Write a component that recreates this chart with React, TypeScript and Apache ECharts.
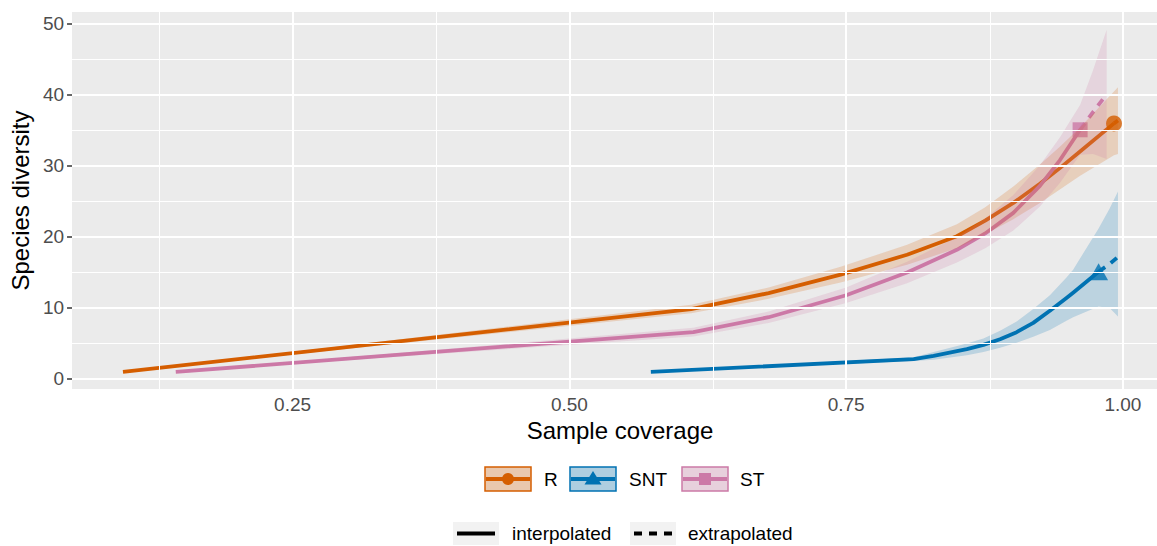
import React, { useEffect, useRef } from "react";
import * as echarts from "echarts";

// ---------- data ----------
const groupNames = ["R", "SNT", "ST"];
const groupColors = ["#D55E00", "#0072B2", "#CC79A7"];

const rCoverage = [0.0968, 0.61, 0.68, 0.745, 0.805, 0.85, 0.8756, 0.901, 0.925, 0.943, 0.961, 0.9919, 0.9955];
const rDiversity = [1.0, 9.85, 12.1, 14.7, 17.5, 20.1, 22.3, 24.8, 27.5, 29.7, 32.0, 36.0, 36.4];
const rLower = [1.0, 9.25, 11.3, 13.6, 16.1, 18.4, 20.4, 22.5, 24.8, 26.7, 28.6, 31.5, 31.7];
const rUpper = [1.0, 10.45, 12.9, 15.8, 18.9, 21.8, 24.2, 27.1, 30.2, 32.7, 35.4, 40.5, 41.1];
const rRefIndex = 11;

const sntCoverage = [0.5736, 0.811, 0.829, 0.859, 0.874, 0.889, 0.904, 0.919, 0.934, 0.949, 0.955, 0.978, 0.988, 0.9955];
const sntDiversity = [1.0, 2.8, 3.25, 4.2, 4.8, 5.6, 6.6, 7.9, 9.6, 11.4, 12.15, 15.1, 16.2, 17.2];
const sntLower = [1.0, 2.55, 2.7, 3.35, 3.8, 4.4, 5.1, 5.95, 6.9, 8.2, 8.7, 10.2, 10.0, 8.8];
const sntUpper = [1.0, 3.05, 3.8, 5.0, 5.7, 6.8, 8.1, 9.85, 11.8, 14.3, 15.4, 21.2, 24.0, 26.4];
const sntRefIndex = 11;

const stCoverage = [0.1445, 0.612, 0.68, 0.75, 0.805, 0.85, 0.8756, 0.901, 0.925, 0.943, 0.9613, 0.973, 0.9853];
const stDiversity = [1.0, 6.6, 8.7, 11.8, 15.0, 18.2, 20.5, 23.4, 27.2, 30.8, 35.1, 37.6, 40.1];
const stLower = [1.0, 6.0, 7.9, 10.7, 13.5, 16.4, 18.4, 20.9, 24.3, 27.6, 31.6, 31.7, 31.0];
const stUpper = [1.0, 7.2, 9.5, 12.9, 16.5, 20.0, 22.6, 25.9, 30.1, 34.0, 38.6, 43.5, 49.2];
const stRefIndex = 10;

const xMajorTicks = [0.25, 0.5, 0.75, 1.0];
const xMinorTicks = [0.125, 0.375, 0.625, 0.875];
const yMajorTicks = [0, 10, 20, 30, 40, 50];
const yMinorTicks = [5, 15, 25, 35, 45];

const lineTypeNames = ["interpolated", "extrapolated"];

// ---------- helpers ----------
const FONT = "'Liberation Sans', Arial, Helvetica, sans-serif";

function hexAlpha(hex: string, a: number) {
  const r = parseInt(hex.slice(1, 3), 16);
  const g = parseInt(hex.slice(3, 5), 16);
  const b = parseInt(hex.slice(5, 7), 16);
  return `rgba(${r},${g},${b},${a})`;
}

const groups = [
  { x: rCoverage, y: rDiversity, lo: rLower, hi: rUpper, ref: rRefIndex, symbol: "circle", size: 16 },
  { x: sntCoverage, y: sntDiversity, lo: sntLower, hi: sntUpper, ref: sntRefIndex, symbol: "triangle", size: [19, 17] },
  { x: stCoverage, y: stDiversity, lo: stLower, hi: stUpper, ref: stRefIndex, symbol: "rect", size: 15 },
];

function buildSeries() {
  const series: any[] = [];
  series.push({
    type: "line",
    data: [],
    silent: true,
    z: 0,
    markLine: {
      silent: true,
      symbol: ["none", "none"],
      label: { show: false },
      animation: false,
      data: [
        ...xMinorTicks.map((v) => ({ xAxis: v, lineStyle: { color: "#FFFFFF", width: 1, type: "solid" } })),
        ...yMinorTicks.map((v) => ({ yAxis: v, lineStyle: { color: "#FFFFFF", width: 1, type: "solid" } })),
        ...xMajorTicks.map((v) => ({ xAxis: v, lineStyle: { color: "#FFFFFF", width: 2, type: "solid" } })),
        ...yMajorTicks.map((v) => ({ yAxis: v, lineStyle: { color: "#FFFFFF", width: 2, type: "solid" } })),
      ],
    },
  });

  groups.forEach((g, gi) => {
    series.push({
      name: groupNames[gi],
      type: "scatter",
      z: 2,
      symbol: g.symbol,
      symbolSize: g.size,
      itemStyle: { color: groupColors[gi] },
      data: [[g.x[g.ref], g.y[g.ref]]],
    });
  });
  groups.forEach((g, gi) => {
    const color = groupColors[gi];
    const name = groupNames[gi];
    const pts = g.x.map((x, i) => [x, g.y[i]]);
    series.push({
      name,
      type: "line",
      z: 3,
      showSymbol: false,
      symbol: "none",
      lineStyle: { color, width: 3.8, cap: "butt", join: "round" },
      data: pts.slice(0, g.ref + 1),
    });
    series.push({
      name,
      type: "line",
      z: 3,
      showSymbol: false,
      symbol: "none",
      lineStyle: { color, width: 3.8, type: [8, 7], cap: "butt" },
      data: pts.slice(g.ref),
    });
  });
  groups.forEach((g, gi) => {
    const color = groupColors[gi];
    series.push({
      type: "custom",
      z: 4,
      silent: true,
      encode: { x: 0, y: [1, 2] },
      data: g.x.map((x, i) => [x, g.lo[i], g.hi[i]]),
      renderItem: (params: any, api: any) => {
        if (params.dataIndex !== 0) return { type: "group", children: [] };
        const points: number[][] = [];
        for (let i = 0; i < g.x.length; i++) points.push(api.coord([g.x[i], g.hi[i]]));
        for (let i = g.x.length - 1; i >= 0; i--) points.push(api.coord([g.x[i], g.lo[i]]));
        return {
          type: "polygon",
          shape: { points },
          style: { fill: hexAlpha(color, 0.2), stroke: "none" },
        };
      },
    });
  });
  return series;
}

function buildLegend() {
  const els: any[] = [];
  const row1Y = 467;
  const keyW = 46;
  const keyH = 24;
  const keyXs = [485, 570, 682];
  const textXs = [544, 629, 740];
  groupNames.forEach((name, i) => {
    const c = groupColors[i];
    const kx = keyXs[i];
    const cy = row1Y + keyH / 2;
    const cx = kx + keyW / 2;
    els.push({ type: "rect", shape: { x: kx, y: row1Y, width: keyW, height: keyH }, style: { fill: "#F2F2F2", stroke: "none" } });
    els.push({ type: "rect", shape: { x: kx, y: row1Y, width: keyW, height: keyH }, style: { fill: hexAlpha(c, 0.28), stroke: c, lineWidth: 1.5 } });
    els.push({ type: "line", shape: { x1: kx + 1, y1: cy, x2: kx + keyW - 1, y2: cy }, style: { stroke: c, lineWidth: 3.8 } });
    if (i === 0) els.push({ type: "circle", shape: { cx, cy, r: 6 }, style: { fill: c } });
    if (i === 1)
      els.push({ type: "polygon", shape: { points: [[cx, cy - 8], [cx - 8.5, cy + 5.5], [cx + 8.5, cy + 5.5]] }, style: { fill: c } });
    if (i === 2) els.push({ type: "rect", shape: { x: cx - 6, y: cy - 6, width: 12, height: 12 }, style: { fill: c } });
    els.push({
      type: "text",
      x: textXs[i],
      y: cy,
      style: { text: name, font: `19px ${FONT}`, fill: "#000000", align: "left", verticalAlign: "middle" },
    });
  });
  const row2Y = 522;
  const key2Xs = [453, 630];
  const text2Xs = [512, 688];
  lineTypeNames.forEach((name, i) => {
    const kx = key2Xs[i];
    const cy = row2Y + 11.5;
    els.push({ type: "rect", shape: { x: kx, y: row2Y, width: 46, height: 23 }, style: { fill: "#F2F2F2", stroke: "none" } });
    els.push({
      type: "line",
      shape: { x1: kx + 4, y1: cy, x2: kx + 42, y2: cy },
      style: { stroke: "#000000", lineWidth: 3.8, lineDash: i === 0 ? null : [8, 7] },
    });
    els.push({
      type: "text",
      x: text2Xs[i],
      y: cy,
      style: { text: name, font: `19px ${FONT}`, fill: "#000000", align: "left", verticalAlign: "middle" },
    });
  });
  return els;
}

export default function App() {
  const ref = useRef<HTMLDivElement>(null);
  useEffect(() => {
    document.body.style.margin = "0";
    document.body.style.overflow = "hidden";
    document.documentElement.style.overflow = "hidden";
    const chart = echarts.init(ref.current!, null, { renderer: "svg" });
    const option: any = {
      animation: false,
      backgroundColor: "#FFFFFF",
      textStyle: { fontFamily: FONT },
      grid: {
        left: 70,
        top: 12,
        width: 1098,
        height: 377,
        show: true,
        backgroundColor: "#EBEBEB",
        borderWidth: 0,
        containLabel: false,
      },
      xAxis: {
        type: "value",
        min: 0.0508,
        max: 1.0407,
        name: "Sample coverage",
        nameLocation: "middle",
        nameGap: 28,
        nameTextStyle: { fontSize: 24, color: "#000000", fontFamily: FONT },
        axisLine: { show: false },
        splitLine: { show: false },
        axisTick: { show: true, customValues: xMajorTicks, length: 5, lineStyle: { color: "#333333", width: 1.5 } },
        axisLabel: {
          customValues: xMajorTicks,
          formatter: (v: number) => v.toFixed(2),
          fontSize: 19,
          color: "#4D4D4D",
          margin: 6,
          fontFamily: FONT,
        },
      },
      yAxis: {
        type: "value",
        min: -1.41,
        max: 51.69,
        name: "Species diversity",
        nameLocation: "middle",
        nameRotate: 90,
        nameGap: 37,
        nameTextStyle: { fontSize: 24, color: "#000000", fontFamily: FONT },
        axisLine: { show: false },
        splitLine: { show: false },
        axisTick: { show: true, customValues: yMajorTicks, length: 5, lineStyle: { color: "#333333", width: 1.5 } },
        axisLabel: {
          customValues: yMajorTicks,
          fontSize: 19,
          color: "#4D4D4D",
          margin: 8,
          fontFamily: FONT,
        },
      },
      series: buildSeries(),
      graphic: buildLegend(),
    };
    chart.setOption(option);
    return () => chart.dispose();
  }, []);
  return (
    <div style={{ width: 1157, height: 546, overflow: "hidden" }}>
      <div ref={ref} style={{ width: 1172, height: 546 }} />
    </div>
  );
}
